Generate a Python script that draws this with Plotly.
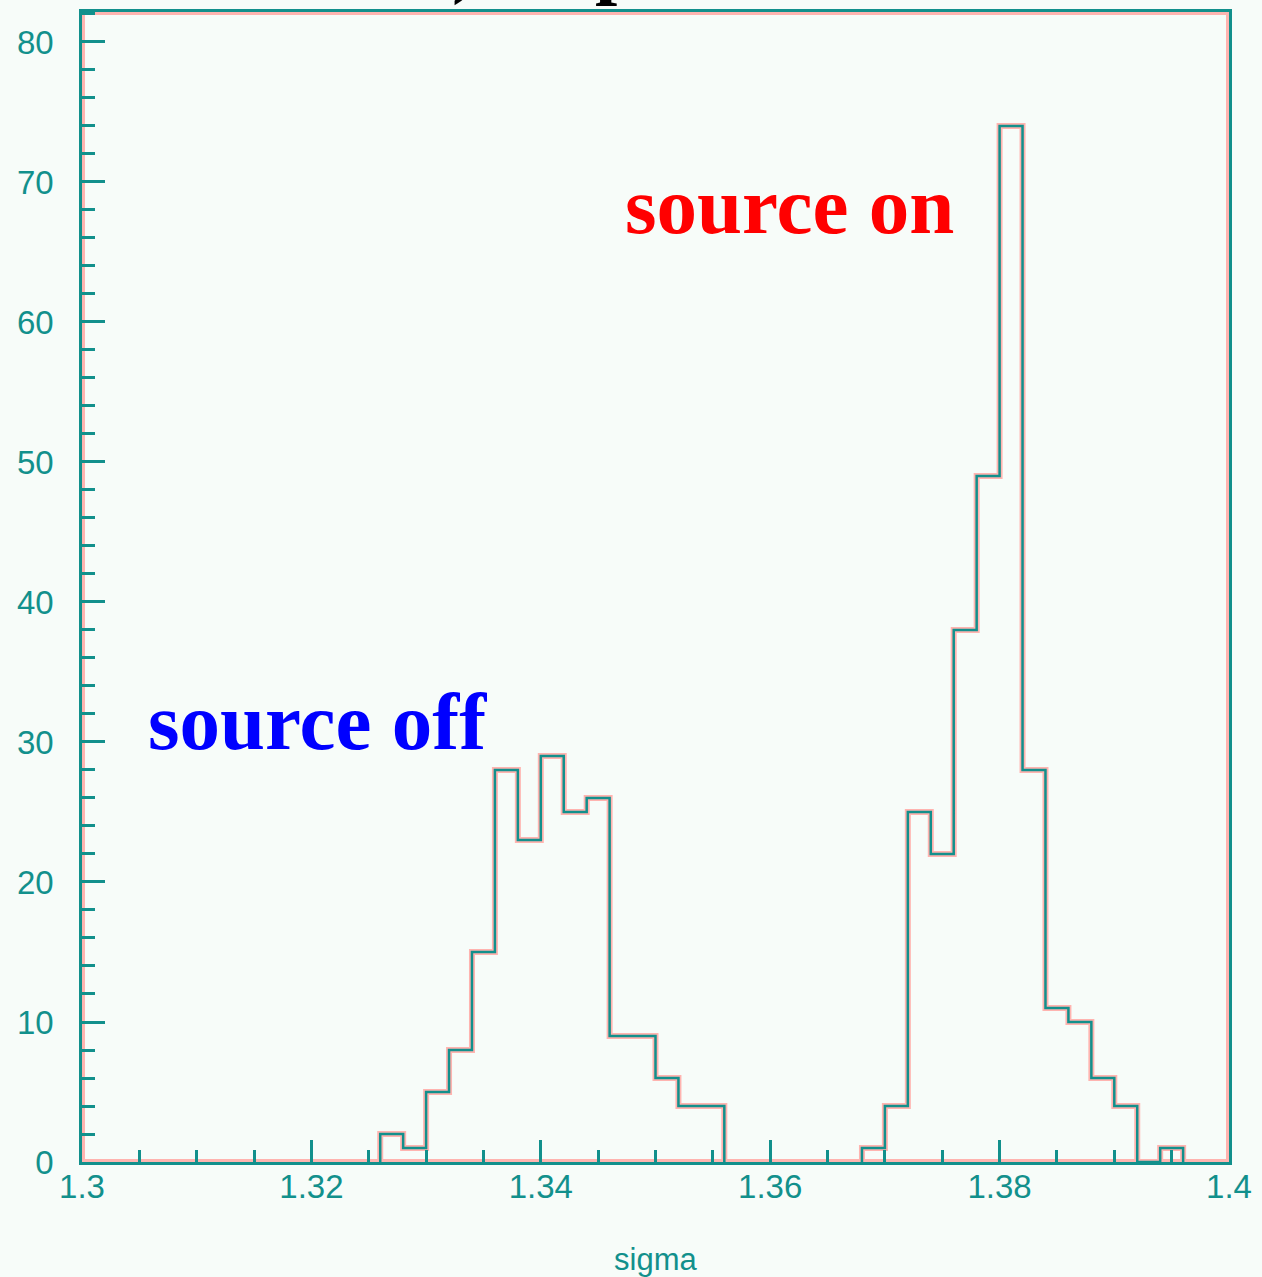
import plotly.graph_objects as go

# Histogram of sigma, bin width 0.002
BIN_WIDTH = 0.002

# source off: first bin starts at 1.326
off_start = 1.326
off_counts = [2, 1, 5, 8, 15, 28, 23, 29, 25, 26, 9, 9, 6, 4, 4]

# source on: first bin starts at 1.368
on_start = 1.368
on_counts = [1, 4, 25, 22, 38, 49, 74, 28, 11, 10, 6, 4, 0, 1]

x_tick_vals = [1.30, 1.32, 1.34, 1.36, 1.38, 1.40]
x_tick_text = ["1.3", "1.32", "1.34", "1.36", "1.38", "1.4"]
y_tick_vals = [0, 10, 20, 30, 40, 50, 60, 70, 80]
y_tick_text = ["0", "10", "20", "30", "40", "50", "60", "70", "80"]

X_RANGE = [1.3, 1.4]
Y_RANGE = [0, 82.14]

TEAL = "#12908c"
HALO = "#ffb4b0"
BG = "#f7fcf9"


def step_xy(start, counts):
    edges = [start + BIN_WIDTH * i for i in range(len(counts) + 1)]
    xs = [edges[0]] + edges
    ys = [0] + list(counts) + [0]
    return xs, ys


fig = go.Figure()

for start, counts in [(off_start, off_counts), (on_start, on_counts)]:
    xs, ys = step_xy(start, counts)
    # soft reddish fringe under the outline
    fig.add_trace(go.Scatter(x=xs, y=ys, mode="lines", line_shape="hv",
                             line=dict(color=HALO, width=6),
                             hoverinfo="skip", showlegend=False))
    fig.add_trace(go.Scatter(x=xs, y=ys, mode="lines", line_shape="hv",
                             line=dict(color=TEAL, width=2.5),
                             showlegend=False))

# fringe around the frame
fig.add_shape(type="rect", xref="x", yref="y",
              x0=X_RANGE[0], x1=X_RANGE[1], y0=Y_RANGE[0], y1=Y_RANGE[1],
              line=dict(color=HALO, width=6), layer="below")

label_font = dict(family="Liberation Sans, Arial, sans-serif", size=33, color=TEAL)

fig.update_xaxes(
    range=X_RANGE, showgrid=False, zeroline=False, automargin=False,
    showline=True, mirror=True, linecolor=TEAL, linewidth=2.5,
    ticks="inside", ticklen=22, tickwidth=2.5, tickcolor=TEAL,
    tickvals=x_tick_vals, ticktext=x_tick_text,
    tickfont=label_font, ticklabelstandoff=-6,
    minor=dict(dtick=0.005, ticks="inside", ticklen=12, tickwidth=2.5, tickcolor=TEAL),
)
fig.update_yaxes(
    range=Y_RANGE, showgrid=False, zeroline=False, automargin=False,
    showline=True, mirror=True, linecolor=TEAL, linewidth=2.5,
    ticks="inside", ticklen=23, tickwidth=2.5, tickcolor=TEAL,
    tickvals=y_tick_vals, ticktext=y_tick_text,
    tickfont=label_font, ticklabelstandoff=19,
    minor=dict(dtick=2, ticks="inside", ticklen=13, tickwidth=2.5, tickcolor=TEAL),
)

# x-axis title
fig.add_annotation(x=0.5, y=-97 / 1150, xref="paper", yref="paper", text="sigma",
                   showarrow=False, font=dict(label_font, size=31),
                   xanchor="center", yanchor="middle")

serif_bold = "Liberation Serif, Times New Roman, serif"
fig.add_annotation(x=1.36167, y=68.3, xref="x", yref="y", text="<b>source on</b>",
                   showarrow=False, font=dict(family=serif_bold, size=81, color="#ff0000"),
                   xanchor="center", yanchor="middle")
fig.add_annotation(x=1.32051, y=31.4, xref="x", yref="y", text="<b>source off</b>",
                   showarrow=False, font=dict(family=serif_bold, size=81, color="#0000ff"),
                   xanchor="center", yanchor="middle")

# heading running off the top edge
fig.add_annotation(x=(466 - 82.3) / 1146.7, y=(1150 + 4) / 1150, xref="paper", yref="paper",
                   text="<b>)</b>", showarrow=False,
                   font=dict(family=serif_bold, size=80, color="#000000"),
                   xanchor="center", yanchor="bottom")
fig.add_annotation(x=(618 - 82.3) / 1146.7, y=(1150 + 4) / 1150, xref="paper", yref="paper",
                   text="<b>p</b>", showarrow=False,
                   font=dict(family=serif_bold, size=80, color="#000000"),
                   xanchor="center", yanchor="bottom")

fig.update_layout(
    width=1262, height=1277,
    margin=dict(l=82, r=33, t=12, b=115),
    paper_bgcolor=BG, plot_bgcolor=BG,
    showlegend=False,
)

fig.write_html("out.html")
